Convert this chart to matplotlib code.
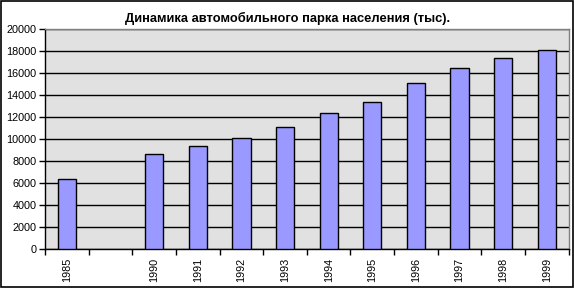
import matplotlib
matplotlib.use("Agg")
import matplotlib.pyplot as plt
import matplotlib.patches as mpatches
import numpy as np

plt.rcParams["font.family"] = ["Liberation Sans", "DejaVu Sans"]

# Excel-style category axis: an empty slot sits between 1985 and 1990
YEARS = ["1985", "", "1990", "1991", "1992", "1993", "1994",
         "1995", "1996", "1997", "1998", "1999"]
CARS = [6350, None, 8640, 9360, 10090, 11090, 12360,
        13360, 15090, 16450, 17360, 18090]
Y_TICKS = [0, 2000, 4000, 6000, 8000, 10000, 12000, 14000, 16000, 18000, 20000]

TITLE = "Динамика автомобильного парка населения (тыс)."
BAR_COLOR = "#9999FF"
PLOT_BG = "#E1E1E1"

fig = plt.figure(figsize=(5.74, 2.88), dpi=100)
ax = fig.add_axes([45 / 574, 1 - 249.3 / 288, (568.7 - 45) / 574, (249.3 - 29.3) / 288])
ax.set_facecolor(PLOT_BG)

x = np.arange(len(YEARS))
for xi, v in zip(x, CARS):
    if v is None:
        continue
    ax.bar(xi, v, width=0.42, color=BAR_COLOR, edgecolor="black",
           linewidth=1, zorder=3)

ax.set_xlim(-0.5, len(YEARS) - 0.5)
ax.set_ylim(0, 20000)
ax.set_yticks(Y_TICKS)
ax.set_yticklabels([str(t) for t in Y_TICKS], fontsize=7.8)
ax.grid(axis="y", color="black", linewidth=1, zorder=1)
ax.set_axisbelow(True)

# category labels at centres, tick marks at slot boundaries
ax.set_xticks(x)
ax.set_xticklabels(YEARS, rotation=90, fontsize=7.8, va="top")
ax.tick_params(axis="x", which="major", length=0, pad=6)
ax.set_xticks(np.arange(len(YEARS) + 1) - 0.5, minor=True)
ax.tick_params(axis="x", which="minor", length=4, width=1, color="black",
               direction="out")
ax.tick_params(axis="y", length=4, width=1, direction="out", pad=2)

for side in ("top", "right"):
    ax.spines[side].set_color("#808080")
    ax.spines[side].set_linewidth(1)
for side in ("left", "bottom"):
    ax.spines[side].set_color("black")
    ax.spines[side].set_linewidth(1)

fig.text(288 / 574, 1 - 22 / 288, TITLE, ha="center", va="baseline",
         fontsize=9.3, fontweight="bold")

# outer chart border
fig.patches.append(mpatches.Rectangle((0.001, 0.002), 0.997, 0.996,
                                      transform=fig.transFigure, fill=False,
                                      edgecolor="black", linewidth=1.2))

fig.savefig("out.png", dpi=100)
